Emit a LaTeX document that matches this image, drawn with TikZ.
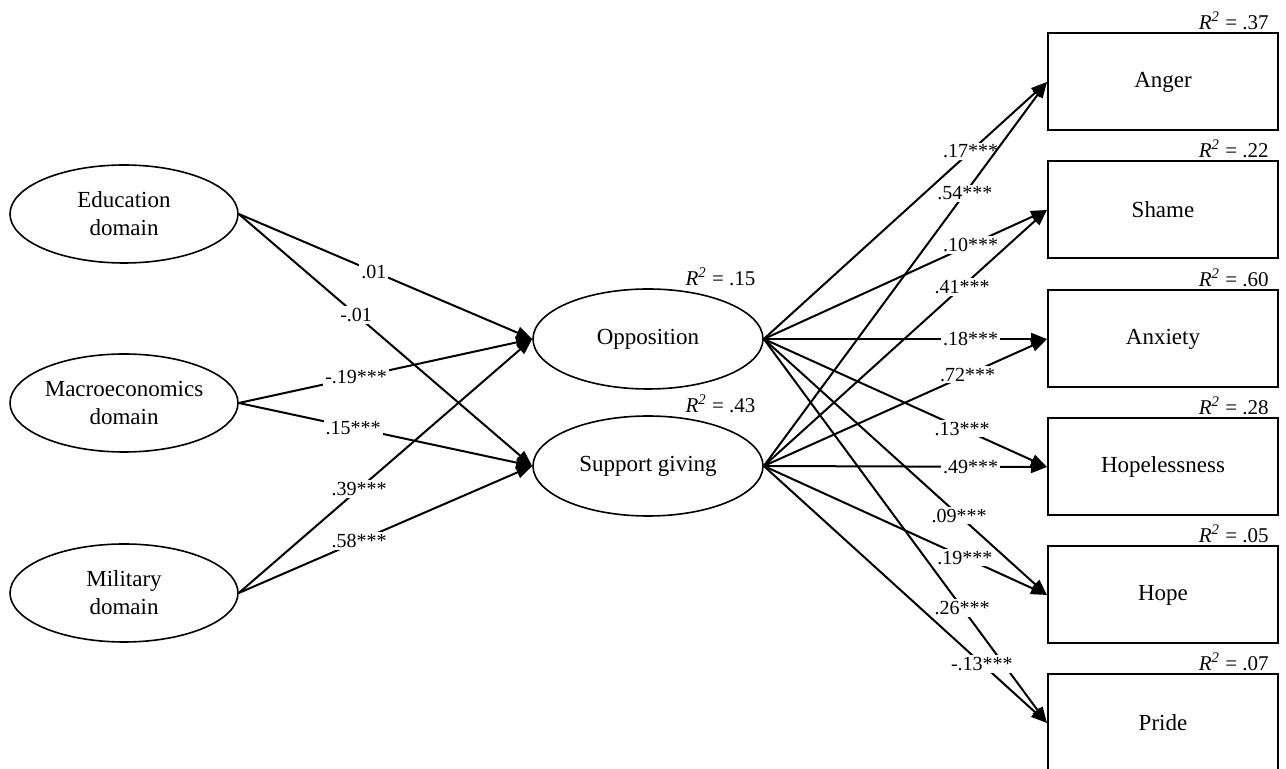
\documentclass[tikz,border=0pt]{standalone}
\usepackage{fontspec}
\setmainfont{Liberation Serif}
\usetikzlibrary{arrows.meta, positioning, shapes.geometric}

\newcommand{\rsquared}[1]{\textit{R\textsuperscript{2}} = #1}

\begin{document}
\begin{tikzpicture}[x=0.5pt, y=-0.5pt,
    latent/.style={draw, ellipse, line width=0.8pt, minimum width=114pt, minimum height=49pt, inner sep=0pt, align=center, font=\fontsize{11.5}{14}\selectfont},
    emotion/.style={draw, rectangle, line width=1pt, minimum width=115pt, minimum height=48.5pt, inner sep=0pt, font=\fontsize{11.5}{14}\selectfont},
    effect/.style={line width=1pt, -{Triangle[length=8pt, width=6pt]}},
    coef/.style={fill=white, inner sep=1pt, font=\fontsize{10}{12}\selectfont},
    rsq/.style={anchor=south east, inner sep=1pt, font=\fontsize{10.5}{12}\selectfont}]
    \useasboundingbox (0,0) rectangle (1286,769);

    % predictors
    \node[latent] (edu) at (124,214) {Education\\domain};
    \node[latent] (mac) at (124,403) {Macroeconomics\\domain};
    \node[latent] (mil) at (124,593) {Military\\domain};

    % mediators
    \node[latent, minimum width=115pt, minimum height=50pt] (opp) at (648,339) {Opposition};
    \node[latent, minimum width=115pt, minimum height=50pt] (sup) at (648,466) {Support giving};
    \node[rsq, xshift=-3pt] at (opp.north -| opp.east) {\rsquared{.15}};
    \node[rsq, xshift=-3pt] at (sup.north -| sup.east) {\rsquared{.43}};

    % emotions
    \node[emotion] (anger) at (1163,82) {Anger};
    \node[emotion] (shame) at (1163,210) {Shame};
    \node[emotion] (anxiety) at (1163,339) {Anxiety};
    \node[emotion] (hopeless) at (1163,467) {Hopelessness};
    \node[emotion] (hope) at (1163,595) {Hope};
    \node[emotion] (pride) at (1163,723) {Pride};
    \node[rsq] at ([xshift=-4pt]anger.north east) {\rsquared{.37}};
    \node[rsq] at ([xshift=-4pt]shame.north east) {\rsquared{.22}};
    \node[rsq] at ([xshift=-4pt]anxiety.north east) {\rsquared{.60}};
    \node[rsq] at ([xshift=-4pt]hopeless.north east) {\rsquared{.28}};
    \node[rsq] at ([xshift=-4pt]hope.north east) {\rsquared{.05}};
    \node[rsq] at ([xshift=-4pt]pride.north east) {\rsquared{.07}};

    % paths to mediators
    \draw[effect] (edu.east) -- node[coef, pos=0.46] {.01} (opp.west);
    \draw[effect] (edu.east) -- node[coef, pos=0.40] {-.01} (sup.west);
    \draw[effect] (mac.east) -- node[coef, pos=0.40] {-.19***} (opp.west);
    \draw[effect] (mac.east) -- node[coef, pos=0.39] {.15***} (sup.west);
    \draw[effect] (mil.east) -- node[coef, pos=0.41] {.39***} (opp.west);
    \draw[effect] (mil.east) -- node[coef, pos=0.41] {.58***} (sup.west);

    % paths to emotions
    \draw[effect] (opp.east) -- node[coef, pos=0.73] {.17***} (anger.west);
    \draw[effect] (sup.east) -- node[coef, pos=0.71] {.54***} (anger.west);
    \draw[effect] (opp.east) -- node[coef, pos=0.73] {.10***} (shame.west);
    \draw[effect] (sup.east) -- node[coef, pos=0.70] {.41***} (shame.west);
    \draw[effect] (opp.east) -- node[coef, pos=0.73] {.18***} (anxiety.west);
    \draw[effect] (sup.east) -- node[coef, pos=0.72] {.72***} (anxiety.west);
    \draw[effect] (opp.east) -- node[coef, pos=0.70] {.13***} (hopeless.west);
    \draw[effect] (sup.east) -- node[coef, pos=0.73] {.49***} (hopeless.west);
    \draw[effect] (opp.east) -- node[coef, pos=0.69] {.09***} (hope.west);
    \draw[effect] (sup.east) -- node[coef, pos=0.71] {.19***} (hope.west);
    \draw[effect] (opp.east) -- node[coef, pos=0.70] {.26***} (pride.west);
    \draw[effect] (sup.east) -- node[coef, pos=0.77] {-.13***} (pride.west);
\end{tikzpicture}
\end{document}
